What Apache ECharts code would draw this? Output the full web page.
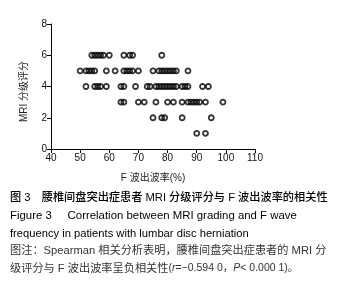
<!DOCTYPE html>
<html><head><meta charset="utf-8">
<script src="https://cdn.jsdelivr.net/npm/echarts@6/dist/echarts.min.js"></script>
<style>html,body{margin:0;padding:0;background:#fff}#c{width:341px;height:287px}</style>
</head><body><div id="c"></div>
<script>
// F-wave rate (%) values for each MRI grading score
const grade6 = [54,55,56,57,58,60,65,67,68,78];
const grade5 = [50,52,53,54,55,59,62,65,66,67,68,70,75,77,78,79,80,81,82,83,87];
const grade4 = [52,55,56,57,59,64,65,69,73,74,76,77,78,79,80,81,82,83,85,86,87,92,94];
const grade3 = [64,65,70,72,76,80,82,85,87,88,89,90,91,93,99];
const grade2 = [75,78,79,85,95];
const grade1 = [90,93];
const xTicks = [40,50,60,70,80,90,100,110];
const yTicks = [0,2,4,6,8];

const groups = [[1,grade1],[2,grade2],[3,grade3],[4,grade4],[5,grade5],[6,grade6]];
const points = [];
groups.forEach(([g,arr]) => arr.forEach(x => points.push([x,g])));

const FONT = "'Liberation Sans', 'Noto Sans CJK SC', sans-serif";
const chart = echarts.init(document.getElementById('c'), null, {renderer:'canvas'});
const axisCommon = {
  axisLine:{show:true,lineStyle:{color:'#000',width:1}},
  axisTick:{show:true,inside:false,length:4,lineStyle:{color:'#000'}},
  splitLine:{show:false},
  axisLabel:{color:'#111',fontSize:10,fontFamily:FONT,margin:4},
  nameTextStyle:{color:'#222',fontSize:10,fontFamily:FONT}
};
function cap(y, text, fill, extra){
  return {type:'text', x:10, y:y, style:Object.assign({text:text, font:"11.2px "+FONT, fill:fill, verticalAlign:'middle', align:'left'}, extra||{})};
}
chart.setOption({
  animation:false,
  backgroundColor:'#fff',
  grid:{left:51,top:24,width:204,height:125,containLabel:false},
  xAxis:Object.assign({}, axisCommon, {
    type:'value', min:xTicks[0], max:xTicks[xTicks.length-1], interval:10,
    name:'F 波出波率(%)', nameLocation:'middle', nameGap:24
  }),
  yAxis:Object.assign({}, axisCommon, {
    type:'value', min:yTicks[0], max:yTicks[yTicks.length-1], interval:2,
    name:'MRI 分级评分', nameLocation:'middle', nameGap:22,
    nameTextStyle:{color:'#222',fontSize:10,fontFamily:FONT,padding:[0,0,0,-10]}
  }),
  series:[{
    type:'scatter', data:points, symbol:'circle', symbolSize:5,
    itemStyle:{color:'rgba(0,0,0,0)',borderColor:'#000',borderWidth:1.8}
  }],
  graphic:[
    cap(198, '图 3　腰椎间盘突出症患者 MRI 分级评分与 F 波出波率的相关性', '#000', {font:"500 11.2px "+FONT}),
    cap(216, 'Figure 3     Correlation between MRI grading and F wave', '#000', {font:"11.4px "+FONT}),
    cap(233.5, 'frequency in patients with lumbar disc herniation', '#000'),
    cap(251, '图注：Spearman 相关分析表明，腰椎间盘突出症患者的 MRI 分', '#333'),
    cap(268.5, '级评分与 F 波出波率呈负相关性{n|(}{i|r}{n|=−0.594 0，}{i|P}{n|< 0.000 1)。}', '#333', {
      rich:{
        i:{fontStyle:'italic',fontSize:10.5,fontFamily:FONT,fill:'#333',verticalAlign:'middle'},
        n:{fontSize:10.5,fontFamily:FONT,fill:'#333',verticalAlign:'middle'}
      }
    })
  ]
});
</script></body></html>
